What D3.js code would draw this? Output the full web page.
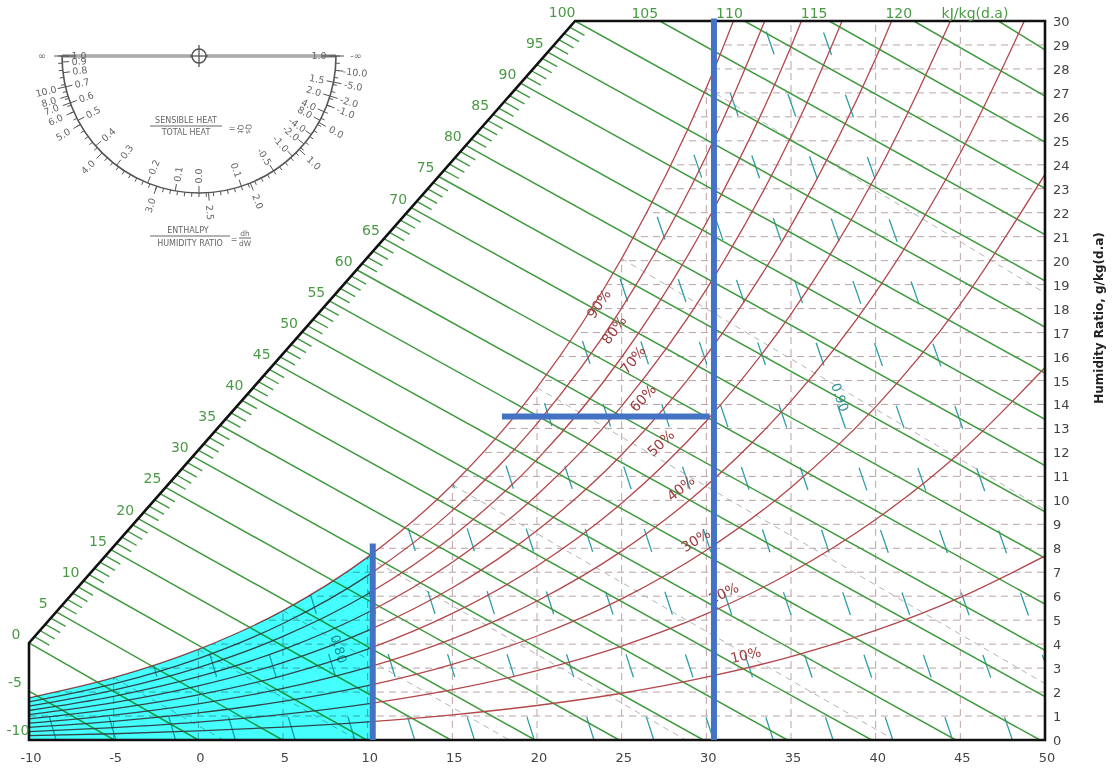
<!DOCTYPE html>
<html><head><meta charset="utf-8">
<script src="https://cdn.jsdelivr.net/npm/d3@7"></script>
<style>
html,body{margin:0;padding:0;background:#fff;}
svg{display:block;font-family:"DejaVu Sans",Verdana,sans-serif;}
</style>
</head><body>
<svg id="c" width="1113" height="770"></svg>
<script>
// ---------------- DATA ----------------
const tempTicks = [-10,-5,0,5,10,15,20,25,30,35,40,45,50];
const humidityTicks = [0,1,2,3,4,5,6,7,8,9,10,11,12,13,14,15,16,17,18,19,20,21,22,23,24,25,26,27,28,29,30];
const gridTemps = [-5,0,5,10,15,20,25,30,35,40,45];
const gridHumidity = [1,2,3,4,5,6,7,8,9,10,11,12,13,14,15,16,17,18,19,20,21,22,23,24,25,26,27,28,29];

const enthalpyDiagLabels = [0,5,10,15,20,25,30,35,40,45,50,55,60,65,70,75,80,85,90,95,100];
const enthalpyTopLabels = [105,110,115,120];
const enthalpyLeftLabels = [-5,-10];
const enthalpyLines = [-5,0,5,10,15,20,25,30,35,40,45,50,55,60,65,70,75,80,85,90,95,100,105,110,115,120,125];
const enthalpyUnit = "kJ/kg(d.a)";

// relative humidity curves: humidity ratio (g/kg) at rhTemps
const rhTemps = [-10,-5,0,5,10,15,20,25,30,35,40,45,50];
const rh100 = [1.76,2.60,3.78,5.40,7.63,10.65,14.70,20.09,27.21,36.58];
const rh90  = [1.59,2.34,3.40,4.86,6.86,9.57,13.20,18.02,24.38,32.73];
const rh80  = [1.41,2.08,3.02,4.32,6.09,8.49,11.70,15.97,21.58,28.93,38.51];
const rh70  = [1.23,1.82,2.64,3.77,5.32,7.42,10.22,13.93,18.80,25.17,33.44];
const rh60  = [1.06,1.56,2.26,3.23,4.56,6.35,8.74,11.90,16.05,21.45,28.44,37.47];
const rh50  = [0.88,1.30,1.88,2.69,3.79,5.28,7.26,9.88,13.31,17.77,23.52,30.91];
const rh40  = [0.70,1.04,1.51,2.15,3.03,4.22,5.80,7.88,10.61,14.14,18.68,24.49,31.89];
const rh30  = [0.53,0.78,1.13,1.61,2.27,3.16,4.34,5.89,7.92,10.54,13.90,18.19,23.61];
const rh20  = [0.35,0.52,0.75,1.07,1.51,2.10,2.89,3.92,5.26,6.99,9.20,12.01,15.54];
const rh10  = [0.18,0.26,0.38,0.54,0.76,1.05,1.44,1.95,2.62,3.48,4.57,5.95,7.68];
const rhLevels = [100,90,80,70,60,50,40,30,20,10];
const rhValues = [rh100,rh90,rh80,rh70,rh60,rh50,rh40,rh30,rh20,rh10];

// wet-bulb lines (°C), starting on the saturation curve
const wetBulbTemps = [-5,0,5,10,15,20,25,30];

// specific volume lines (m3/kg)
const volumeLines = [0.75,0.76,0.77,0.78,0.79,0.80,0.81,0.82,0.83,0.84,0.85,0.86,0.87,0.88,0.89,0.90,0.91,0.92];
const volumeLabels = ["0.80","0.90"];

// overlay (blue) lines: [T1,W1,T2,W2]
const overlayA = [10.3,0,10.3,8.2];
const overlayB = [30.45,0,30.45,30.1];
const overlayC = [17.93,13.5,30.2,13.5];
const cyanLimit = [-10,10.2];

// protractor scales
const shrLabels = ["1.0","0.9","0.8","0.7","0.6","0.5","0.4","0.3","0.2","0.1","0.0","0.1","-0.5","-1.0","-2.0","-4.0","8.0","4.0","2.0","1.5","1.0"];
const ratioLabels = ["∞","10.0","8.0","7.0","6.0","5.0","4.0","3.0","2.5","2.0","1.0","0.0","-1.0","-2.0","-5.0","-10.0","-∞"];

// ---------------- LAYOUT ----------------
const L = {
  A:[-10,4.05], B:[22.25,30],
  rhLabelPos:[[23.65,18.2],[24.54,17.11],[25.66,15.86],[26.25,14.27],[27.31,12.39],[28.49,10.51],[29.37,8.34],[31.02,6.13],[32.32,3.55]],
  volLabelPos:[[8.3,3.8],[37.9,14.3]],
  shrAngles:[180,177.5,173,167,160,152,139,127,112,100,90,72,57,47,40,35,28,24,17,11,0],
  ratioAngles:[180,167,163,160,156,150,135,108,86,68,43,29,21,17,11,6,0],
  pc:{cx:199,cy:56,r:137}
};

const svg = d3.select("#c");
const x = d3.scaleLinear().domain([-10,50]).range([29,1045]);
const y = d3.scaleLinear().domain([0,30]).range([740,21]);
const P = (T,W)=>[x(T),y(W)];
const defs = svg.append("defs");

const plotPoly = [[-10,0],[50,0],[50,30],L.B,L.A];
defs.append("clipPath").attr("id","plotClip").append("polygon")
  .attr("points", plotPoly.map(p=>P(p[0],p[1]).join(",")).join(" "));

const curve = d3.line().x(d=>x(d[0])).y(d=>y(d[1])).curve(d3.curveMonotoneX);
const rhSeries = rhLevels.map((rh,i)=>({rh, pts: rhValues[i].map((w,j)=>[rhTemps[j],w])}));
const sat = rhSeries[0].pts;
const satD = curve(sat) + `L${x(60)},${y(sat[sat.length-1][1])}L${x(60)},${y(-2)}L${x(-12)},${y(-2)}L${x(-12)},${y(sat[0][1])}Z`;
defs.append("clipPath").attr("id","satClip").append("path").attr("d",satD);

const gPlot = svg.append("g").attr("clip-path","url(#plotClip)");
const gSat = gPlot.append("g").attr("clip-path","url(#satClip)");

// grid
gSat.selectAll("line.gv").data(gridTemps).join("line")
  .attr("x1",d=>x(d)).attr("x2",d=>x(d)).attr("y1",y(0)).attr("y2",y(30))
  .attr("stroke","#b9a3a6").attr("stroke-width",1).attr("stroke-dasharray","7,5");
gSat.selectAll("line.gh").data(gridHumidity).join("line")
  .attr("x1",x(-10)).attr("x2",x(50)).attr("y1",d=>y(d)).attr("y2",d=>y(d))
  .attr("stroke","#b9a3a6").attr("stroke-width",1).attr("stroke-dasharray","7,5");

// wet-bulb lines
const wbLine = twb=>{
  const ws = rh100[rhTemps.indexOf(twb)]/1000;
  const a = (2501-2.326*twb)*ws;
  let T1 = twb + a/1.006, W1 = 0;
  if(T1>50){ T1=50; W1=(a-1.006*(50-twb))/(2501+1.86*50-4.186*twb)*1000; }
  return [[twb,ws*1000],[T1,W1]];
};
gSat.selectAll("line.wb").data(wetBulbTemps).join("line")
  .attr("x1",d=>x(wbLine(d)[0][0])).attr("y1",d=>y(wbLine(d)[0][1]))
  .attr("x2",d=>x(wbLine(d)[1][0])).attr("y2",d=>y(wbLine(d)[1][1]))
  .attr("stroke","#b4b4b4").attr("stroke-width",1).attr("stroke-dasharray","6,5");

// specific volume lines
const vT = (v,W)=> v*101.325/0.287042/(1+0.0016078*W) - 273.15;
gSat.selectAll("line.vol").data(volumeLines).join("line")
  .attr("x1",d=>x(vT(d,0))).attr("y1",y(0)).attr("x2",d=>x(vT(d,31))).attr("y2",y(31))
  .attr("stroke","#2f9ea6").attr("stroke-width",1.3).attr("stroke-dasharray","24,42");

// enthalpy lines
function anchor(h){
  if(h<0) return [-10,(h+10.06)/2.4824];
  if(h<=100){const f=h/100; return [L.A[0]+f*(L.B[0]-L.A[0]), L.A[1]+f*(L.B[1]-L.A[1])];}
  return [L.B[0]+(h-100)*1.0,30];
}
function endPt(h){
  const T0=h/1.006; if(T0<=50) return [T0,0];
  return [50,(h-50.3)/(2.501+0.093)];
}
gPlot.selectAll("line.h").data(enthalpyLines).join("line")
  .attr("x1",d=>x(anchor(d)[0])).attr("y1",d=>y(anchor(d)[1]))
  .attr("x2",d=>x(endPt(d)[0])).attr("y2",d=>y(endPt(d)[1]))
  .attr("stroke","#3f9a3f").attr("stroke-width",1.5);

// RH curves
const rhPaths = gPlot.selectAll("path.rh").data(rhSeries).join("path")
  .attr("d",d=>curve(d.pts)).attr("fill","none")
  .attr("stroke","#b2474a").attr("stroke-width",1.3);

// cyan region (multiply)
gPlot.append("rect").attr("x",x(cyanLimit[0])).attr("y",y(30)).attr("width",x(cyanLimit[1])-x(cyanLimit[0])).attr("height",y(0)-y(30))
  .attr("clip-path","url(#satClip)").attr("fill","#45ffff").style("mix-blend-mode","multiply");

// hatch ticks along diagonal
const hatch = d3.range(0,101).filter(h=>h%5!==0);
const gH = svg.append("g");
hatch.forEach(h=>{
  const a=anchor(h), e=endPt(h);
  const p0=P(a[0],a[1]), p1=P(e[0],e[1]);
  const dx=p1[0]-p0[0], dy=p1[1]-p0[1], len=Math.hypot(dx,dy);
  gH.append("line").attr("x1",p0[0]).attr("y1",p0[1]).attr("x2",p0[0]+dx/len*17).attr("y2",p0[1]+dy/len*17)
    .attr("stroke","#3f9a3f").attr("stroke-width",1.4);
});

// frame
svg.append("polygon").attr("points",plotPoly.map(p=>P(p[0],p[1]).join(",")).join(" "))
  .attr("fill","none").attr("stroke","#111").attr("stroke-width",2.6).attr("stroke-linejoin","miter");

// axis labels
svg.selectAll("text.xt").data(tempTicks).join("text")
  .attr("x",d=>x(d)+2).attr("y",762).attr("text-anchor","middle").attr("font-size",13).attr("fill","#444").text(d=>d);
svg.selectAll("text.yt").data(humidityTicks).join("text")
  .attr("x",1053).attr("y",d=>y(d)+5).attr("font-size",13).attr("fill","#444").text(d=>d);
svg.append("text").attr("transform","translate(1103,318) rotate(-90)").attr("text-anchor","middle")
  .attr("font-size",12).attr("font-weight","bold").attr("fill","#222").text("Humidity Ratio, g/kg(d.a)");

// enthalpy labels
const green="#4a9a45";
svg.selectAll("text.hd").data(enthalpyDiagLabels).join("text")
  .attr("x",d=>x(anchor(d)[0])-13).attr("y",d=>y(anchor(d)[1])-4)
  .attr("text-anchor","middle").attr("font-size",14).attr("fill",green).text(d=>d);
svg.selectAll("text.ht").data(enthalpyTopLabels).join("text")
  .attr("x",d=>x(anchor(d)[0])-15).attr("y",18)
  .attr("text-anchor","middle").attr("font-size",14).attr("fill",green).text(d=>d);
svg.append("text").attr("x",975).attr("y",18).attr("text-anchor","middle").attr("font-size",14).attr("fill",green).text(enthalpyUnit);
svg.selectAll("text.hl").data(enthalpyLeftLabels).join("text")
  .attr("x",d=>d===-10?18:15).attr("y",d=>y(anchor(d)[1])-4)
  .attr("text-anchor","middle").attr("font-size",14).attr("fill",green).text(d=>d);

// RH labels rotated along curves
rhPaths.each(function(d,i){
  if(i===0) return;
  const pos=L.rhLabelPos[i-1];
  const path=this, total=path.getTotalLength();
  const tx=x(pos[0]);
  let lo=0,hi=total;
  for(let k=0;k<40;k++){const m=(lo+hi)/2; if(path.getPointAtLength(m).x<tx) lo=m; else hi=m;}
  const a=path.getPointAtLength(Math.max(0,lo-4)), b=path.getPointAtLength(Math.min(total,lo+4));
  const ang=Math.atan2(b.y-a.y,b.x-a.x)*180/Math.PI;
  svg.append("text").attr("transform",`translate(${x(pos[0])},${y(pos[1])}) rotate(${ang})`)
    .attr("text-anchor","middle").attr("dy","0.35em").attr("font-size",14).attr("fill","#9a3b3e").text(d.rh+"%");
});

// volume labels
volumeLabels.forEach((t,i)=>{
  const v=+t, pos=L.volLabelPos[i];
  const p0=P(vT(v,0),0), p1=P(vT(v,30),30);
  const ang=Math.atan2(p0[1]-p1[1],p0[0]-p1[0])*180/Math.PI;
  svg.append("text").attr("transform",`translate(${x(pos[0])},${y(pos[1])}) rotate(${ang})`)
    .attr("text-anchor","middle").attr("dy","0.35em").attr("font-size",13).attr("fill","#2f8f96")
    .style("mix-blend-mode", i===0?"multiply":"normal").text(t);
});

// blue overlay
[overlayA,overlayB,overlayC].forEach(o=>{
  svg.append("line").attr("x1",x(o[0])).attr("y1",y(o[1])).attr("x2",x(o[2])).attr("y2",y(o[3]))
    .attr("stroke","#4472c4").attr("stroke-width",6);
});

// ---------------- protractor ----------------
const pc=L.pc, gP=svg.append("g");
const pt=(a,r)=>[pc.cx+r*Math.cos(a*Math.PI/180), pc.cy+r*Math.sin(a*Math.PI/180)];
gP.append("line").attr("x1",pc.cx-pc.r).attr("x2",pc.cx+pc.r).attr("y1",pc.cy).attr("y2",pc.cy).attr("stroke","#777").attr("stroke-width",3);
gP.append("line").attr("x1",pc.cx-pc.r+14).attr("x2",pc.cx+pc.r-14).attr("y1",pc.cy).attr("y2",pc.cy).attr("stroke","#e4e4e4").attr("stroke-width",1);
const arcPath=d3.path(); arcPath.arc(pc.cx,pc.cy,pc.r,0,Math.PI,false);
gP.append("path").attr("d",arcPath.toString()).attr("fill","none").attr("stroke","#555").attr("stroke-width",1.6);
d3.range(0,181,3).forEach(a=>{const p0=pt(a,pc.r),p1=pt(a,pc.r+4);
  gP.append("line").attr("x1",p0[0]).attr("y1",p0[1]).attr("x2",p1[0]).attr("y2",p1[1]).attr("stroke","#555").attr("stroke-width",1);});
L.shrAngles.forEach((a,i)=>{const p0=pt(a,pc.r),p1=pt(a,pc.r-7),pl=pt(a,pc.r-17);
  gP.append("line").attr("x1",p0[0]).attr("y1",p0[1]).attr("x2",p1[0]).attr("y2",p1[1]).attr("stroke","#555").attr("stroke-width",1);
  const rot=a>=90?a-180:a;
  gP.append("text").attr("transform",`translate(${pl[0]},${pl[1]}) rotate(${rot})`).attr("text-anchor","middle").attr("dy","0.35em")
    .attr("font-size",9.5).attr("fill","#666").text(shrLabels[i]);});
L.ratioAngles.forEach((a,i)=>{const p0=pt(a,pc.r),p1=pt(a,pc.r+8),pl=pt(a,pc.r+20);
  gP.append("line").attr("x1",p0[0]).attr("y1",p0[1]).attr("x2",p1[0]).attr("y2",p1[1]).attr("stroke","#555").attr("stroke-width",1);
  const rot=a>=90?a-180:a;
  gP.append("text").attr("transform",`translate(${pl[0]},${pl[1]}) rotate(${rot})`).attr("text-anchor","middle").attr("dy","0.35em")
    .attr("font-size",9.5).attr("fill","#666").text(ratioLabels[i]);});
gP.append("circle").attr("cx",pc.cx).attr("cy",pc.cy).attr("r",7).attr("fill","#fff").attr("stroke","#555").attr("stroke-width",1.5);
gP.append("line").attr("x1",pc.cx).attr("x2",pc.cx).attr("y1",pc.cy-11).attr("y2",pc.cy+11).attr("stroke","#555").attr("stroke-width",1.3);
gP.append("line").attr("x1",pc.cx-9).attr("x2",pc.cx+9).attr("y1",pc.cy).attr("y2",pc.cy).attr("stroke","#555").attr("stroke-width",1.3);
const tx=(t,xx,yy,fs,anc)=>gP.append("text").attr("x",xx).attr("y",yy).attr("font-size",fs||8).attr("fill","#666").attr("text-anchor",anc||"middle").text(t);
tx("SENSIBLE HEAT",186,123); gP.append("line").attr("x1",150).attr("x2",222).attr("y1",126).attr("y2",126).attr("stroke","#666");
tx("TOTAL HEAT",186,135); tx("=",232,131);
gP.append("text").attr("transform","translate(246,129) rotate(90)").attr("text-anchor","middle").attr("font-size",7.5).attr("fill","#666").text("Qs");
gP.append("text").attr("transform","translate(238,129) rotate(90)").attr("text-anchor","middle").attr("font-size",7.5).attr("fill","#666").text("Qt");
tx("ENTHALPY",188,233); gP.append("line").attr("x1",150).attr("x2",230).attr("y1",236).attr("y2",236).attr("stroke","#666");
tx("HUMIDITY RATIO",190,246); tx("=",234,242);
tx("dh",245,236,7.5); gP.append("line").attr("x1",239).attr("x2",251).attr("y1",238).attr("y2",238).attr("stroke","#666");
tx("dW",245,246,7.5);
</script>
</body></html>
